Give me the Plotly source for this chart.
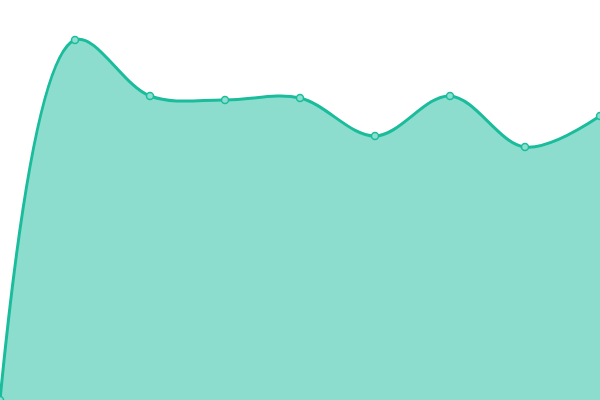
import plotly.graph_objects as go

x_values = [0, 1, 2, 3, 4, 5, 6, 7, 8]
y_values = [0, 90, 76, 75, 75.5, 66, 76, 63.25, 71]

fig = go.Figure()
fig.add_trace(go.Scatter(
    x=x_values, y=y_values,
    mode="lines+markers",
    line=dict(shape="spline", smoothing=1.0, color="#1abc9c", width=3),
    marker=dict(size=7, color="#8cdfcf", line=dict(color="#1abc9c", width=1.5)),
    fill="tozeroy",
    fillcolor="rgba(26,188,156,0.5)",
    cliponaxis=True,
))
fig.update_layout(
    width=600, height=400,
    margin=dict(l=0, r=0, t=0, b=0),
    paper_bgcolor="white", plot_bgcolor="white",
    showlegend=False,
    xaxis=dict(range=[0, 8], visible=False, fixedrange=True),
    yaxis=dict(range=[0, 100], visible=False, fixedrange=True),
)
fig.write_html(
    "out.html",
    config={"displayModeBar": False},
    post_script="document.body.style.margin='0';document.body.style.overflow='hidden';",
)
